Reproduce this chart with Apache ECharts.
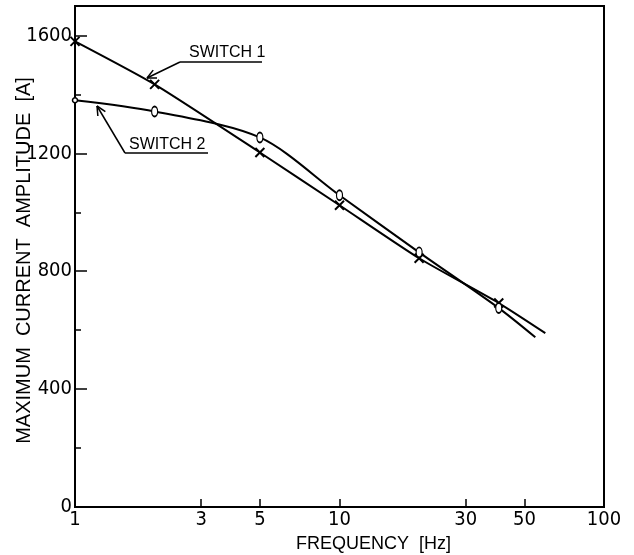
<!DOCTYPE html>
<html>
<head>
<meta charset="utf-8">
<script src="https://cdn.jsdelivr.net/npm/echarts@6/dist/echarts.min.js"></script>
<style>
  html, body { margin: 0; padding: 0; background: #fff; }
  #chart { width: 634px; height: 555px; }
</style>
</head>
<body>
<div id="chart"></div>
<script>
// switch 1 (x markers)
var s1Freq = [1, 2, 5, 10, 20, 40, 60];
var s1Amp = [1580, 1434, 1203, 1024, 844, 692, 590];
// switch 2 (o markers)
var s2Freq = [1, 2, 5, 10, 20, 40, 55];
var s2Amp = [1380, 1342, 1254, 1058, 864, 675, 576];

var xTickLabels = [1, 3, 5, 10, 30, 50, 100];
var yTickLabels = [0, 400, 800, 1200, 1600];
var yMinorTicks = [200, 600, 1000, 1400];

var numFont = 'DejaVu Sans Condensed';
var textFont = 'Liberation Sans';

var crossPath = 'path://M0,0L10,10M10,0L0,10';
var ovalPath = 'path://M3,0A3,5 0 1,1 3,10A3,5 0 1,1 3,0Z';

function pts(freq, amp) {
  return freq.map(function (f, i) { return [f, amp[i]]; });
}

// open arrow head, tip at (x2, y2), coming from (x1, y1)
function arrowHead(x1, y1, x2, y2) {
  var a = Math.atan2(y1 - y2, x1 - x2), len = 10, sp = 0.45;
  return [
    { type: 'line', shape: { x1: x2, y1: y2, x2: x2 + len * Math.cos(a + sp), y2: y2 + len * Math.sin(a + sp) }, style: { stroke: '#000', lineWidth: 1.5 } },
    { type: 'line', shape: { x1: x2, y1: y2, x2: x2 + len * Math.cos(a - sp), y2: y2 + len * Math.sin(a - sp) }, style: { stroke: '#000', lineWidth: 1.5 } }
  ];
}

var chart = echarts.init(document.getElementById('chart'));

var graphics = [
  { type: 'text', left: 189, top: 45, style: { text: 'SWITCH 1', fontSize: 16, fontFamily: textFont, fill: '#000' } },
  { type: 'line', shape: { x1: 180, y1: 62, x2: 262, y2: 62 }, style: { stroke: '#000', lineWidth: 1.5 } },
  { type: 'line', shape: { x1: 180, y1: 62, x2: 147, y2: 78 }, style: { stroke: '#000', lineWidth: 1.5 } },
  { type: 'text', left: 129, top: 137, style: { text: 'SWITCH 2', fontSize: 16, fontFamily: textFont, fill: '#000' } },
  { type: 'line', shape: { x1: 125, y1: 153, x2: 208, y2: 153 }, style: { stroke: '#000', lineWidth: 1.5 } },
  { type: 'line', shape: { x1: 125, y1: 153, x2: 97, y2: 106 }, style: { stroke: '#000', lineWidth: 1.5 } }
].concat(arrowHead(180, 62, 147, 78), arrowHead(125, 153, 97, 106));

var option = {
  backgroundColor: '#fff',
  animation: false,
  grid: {
    left: 75,
    right: 30,
    top: 6,
    bottom: 48,
    show: true,
    borderColor: '#000',
    borderWidth: 2,
    outerBoundsMode: 'none'
  },
  xAxis: [
    { type: 'log', logBase: 10, min: 1, max: 100, show: false },
    {
      type: 'value',
      min: 0,
      max: 2,
      position: 'bottom',
      axisLine: { lineStyle: { color: '#000', width: 2 } },
      axisTick: {
        inside: true,
        length: 8,
        customValues: xTickLabels.map(Math.log10),
        lineStyle: { color: '#000', width: 1.5 }
      },
      axisLabel: {
        customValues: xTickLabels.map(Math.log10),
        formatter: function (v) { return String(Math.round(Math.pow(10, v))); },
        margin: 3,
        color: '#000',
        fontSize: 20,
        fontFamily: numFont
      },
      splitLine: { show: false },
      name: 'FREQUENCY  [Hz]',
      nameLocation: 'middle',
      nameGap: 28,
      nameMoveOverlap: false,
      nameTextStyle: { color: '#000', fontSize: 18, fontFamily: textFont, padding: [0, 0, 0, 68] }
    }
  ],
  yAxis: [
    {
      type: 'value',
      min: 0,
      max: 1700,
      position: 'left',
      axisLine: { show: true, lineStyle: { color: '#000', width: 2 } },
      axisTick: {
        inside: true,
        length: 12,
        customValues: yTickLabels,
        lineStyle: { color: '#000', width: 1.5 }
      },
      axisLabel: {
        customValues: yTickLabels,
        formatter: function (v) { return String(v); },
        margin: 3,
        color: '#000',
        fontSize: 20,
        fontFamily: numFont
      },
      splitLine: { show: false },
      name: 'MAXIMUM  CURRENT  AMPLITUDE  [A]',
      nameLocation: 'middle',
      nameGap: 41,
      nameMoveOverlap: false,
      nameTextStyle: { color: '#000', fontSize: 20, fontFamily: textFont, padding: [0, 8, 0, 0] }
    },
    {
      type: 'value',
      min: 0,
      max: 1700,
      position: 'left',
      axisLine: { show: false },
      axisTick: {
        inside: true,
        length: 6,
        customValues: yMinorTicks,
        lineStyle: { color: '#000', width: 1.5 }
      },
      axisLabel: { show: false },
      splitLine: { show: false }
    }
  ],
  series: [
    {
      name: 'SWITCH 1',
      type: 'line',
      smooth: 0.2,
      xAxisIndex: 0,
      yAxisIndex: 0,
      symbol: function (val, p) { return p.dataIndex === s1Freq.length - 1 ? 'none' : crossPath; },
      symbolSize: 9,
      itemStyle: { color: '#000', borderColor: '#000', borderWidth: 2 },
      lineStyle: { color: '#000', width: 2 },
      data: pts(s1Freq, s1Amp)
    },
    {
      name: 'SWITCH 2',
      type: 'line',
      smooth: 0.3,
      xAxisIndex: 0,
      yAxisIndex: 0,
      symbol: function (val, p) {
        if (p.dataIndex === 0) return 'circle';
        return p.dataIndex === s2Freq.length - 1 ? 'none' : ovalPath;
      },
      symbolSize: function (val, p) { return p.dataIndex === 0 ? 5 : [6, 10]; },
      itemStyle: { color: '#fff', borderColor: '#000', borderWidth: 1.5 },
      lineStyle: { color: '#000', width: 2 },
      data: pts(s2Freq, s2Amp)
    }
  ],
  graphic: graphics
};

chart.setOption(option);
</script>
</body>
</html>
